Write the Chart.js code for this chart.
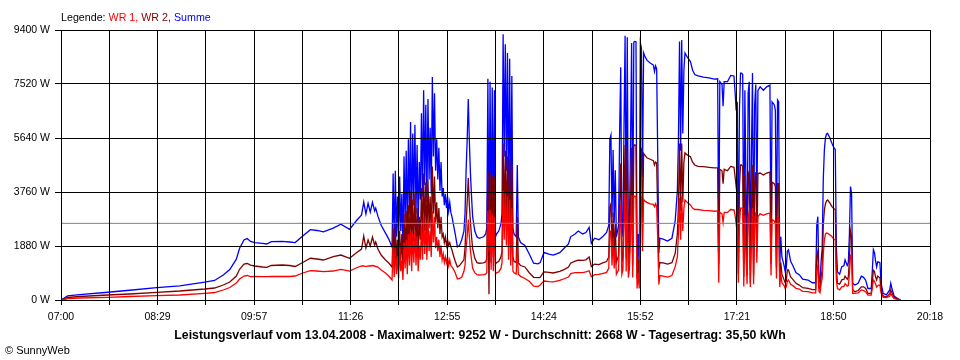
<!DOCTYPE html>
<html>
<head>
<meta charset="utf-8">
<script src="https://cdn.jsdelivr.net/npm/chart.js@4.4.1/dist/chart.umd.min.js"></script>
<style>
  body { margin: 0; background: #fff; }
  #wrap { position: relative; width: 960px; height: 360px; font-family: "Liberation Sans", Arial, sans-serif; color: #000; }
  #chart { position: absolute; left: 0; top: 0; }
  #legend { position: absolute; left: 61px; top: 11px; font-size: 10.7px; white-space: nowrap; }
  #footer { position: absolute; left: 0; top: 328px; width: 960px; text-align: center; font-size: 12.3px; font-weight: bold; white-space: nowrap; }
  #copy { position: absolute; left: 5px; top: 344px; font-size: 11px; white-space: nowrap; }
</style>
</head>
<body>
<div id="wrap">
  <canvas id="chart" width="960" height="360"></canvas>
  <div id="legend">Legende: <span style="color:#ff0000">WR 1,</span> <span style="color:#800000">WR 2,</span> <span style="color:#0000ff">Summe</span></div>
  <div id="footer">Leistungsverlauf vom 13.04.2008 - Maximalwert: 9252 W - Durchschnitt: 2668 W - Tagesertrag: 35,50 kWh</div>
  <div id="copy">&copy; SunnyWeb</div>
</div>
<script>
// minutes after 07:00
const times = [
  0,3,6,17,43, 63,88,109,132,141, 149,155,161,164,168, 171,174,178,185,189, 193,203,210,215,222, 229,235,241,250,257, 265,271,276,278,280, 282,284,286,288,289, 291,294,298,301,304,
  305,306,307,308,309, 310,311,312,313,314, 315,316,317,318,319, 320,321,322,323,324, 325,326,327,328,329, 330,331,332,333,334, 335,336,337,338,339, 340,341,342,343,344, 345,346,347,348,349, 350,351,352,353,354, 355,356,357,358,359, 360,
  362,364,366,368,370, 371,372,373,374,375, 376,377,378,380,382, 384,388,390,
  391,392,393,394,395, 396,397,398,399,400, 402,404,
  405,406,407,408,409, 410,411,412,413,414, 415,416,418,419,420, 422,426,430,434,438, 440,443,444,448,452, 458,462,466,468,472, 475,479,482,485,487, 490,494,498,501,503,
  504,505,506,507,508, 509,510,512,513,514, 515,516,517,518,519, 520,521,522,523,524, 525,526,527,528,529, 530,531,532,533,534, 535,536,538,541,544, 545,546,547,548,549,
  550,553,557,561,564, 566,567,568,569,570, 571,572,573,575,578, 580,582,585,590,595, 600,603,604,605,607, 608,609,612,615,618,
  619,620,621,622,623, 624,625,626,627,628, 629,630,631,632,633, 634,635,636,637,638, 639,640,
  642,645,648,651,652, 653,655,656,657,658, 659,660,661,662,664, 665,666,667,668,670, 672,675,678,681,686, 690,693,694,695,696, 697,698,699,700,701, 702,703,704,706,708, 710,711,712,713,715, 717,719,720,722,723, 724,725,726,727,729, 732,735,737,739,741, 744,745,746,747,748, 749,750,751,752,753, 755,758,761,762,763, 765,768,771
];

// WR 2 (dark red), W
const wr2 = [
  0,35,87,122,174, 209,268,313,383,418, 522,627,835,1070,1253, 1271,1218,1184,1149,1138, 1201,1218,1201,1166,1305, 1452,1427,1392,1507,1566, 1452,1636,1775,2228,1810, 2089,1880,2193,1915,2019, 1775,1566,1392,1288,1149,
  2500,1100,2700,1300,2100, 1050,2400,1400,2300,1000, 3000,1600,3100,1400,3300, 1800,3800,1600,3500,2000, 3700,1800,3200,1500,2900, 2100,3900,2200,4400,2400, 4100,2000,4200,2500,3600, 2200,4650,3000,4300,2700, 3400,2500,3200,2300,2900, 2200,2300,2000,2200,1900, 2100,1900,2000,1850,1750, 1600,
  1350,1150,1200,1300,1400, 1800,2700,3400,4250,3300, 2700,2200,1800,1450,1300, 1280,1290,1330,
  1450,4500,200,4400,1300, 4300,1500,4300,1250,1300, 1350,1500,
  1700,5450,2900,5200,2600, 5000,1900,4900,1600,4600, 1500,1350,1300,2900,1300, 1200,1150,950,790,780, 790,960,980,960,940, 1000,1060,1150,1280,1350, 1390,1380,1400,1500,1160, 1250,1230,1300,1340,1500,
  3250,3350,1700,3050,1580, 2650,1300,1550,3450,4750, 1300,1500,3500,5400,1450, 5350,1200,1600,3250,5300, 1200,5350,5400,5380,750, 1400,650,5330,5250,2600, 5100,5050,4950,4900,4850, 4700,4800,4770,2900,1100,
  1300,1290,1250,1300,1620, 2300,3300,5450,3100,5450, 3400,4800,5120,5050,4990, 4800,4700,4650,4640,4620, 4600,4600,1250,4550,4500, 4050,4550,4500,4650,4620,
  4300,3950,4100,900,3950, 4700,4700,4650,800,4350, 2400,850,4300,4500,600, 3000,4700,850,4100,4450, 1800,4400,
  4420,4350,4420,4450,1250, 4100,4050,3950,1150,4050, 4050,700,1300,900,700, 600,650,1050,1050,800, 720,580,520,430,406, 360,360,1550,1700,430, 380,800,1050,2600,3130, 3350,3450,3480,3380,3250, 3170,3150,1150,580,550, 700,720,830,720,800, 1400,2400,2200,350,290, 330,460,460,400,230, 230,600,1040,1000,800, 700,830,800,780,350, 140,100,220,350,250, 90,40,0
];

// WR 1 (red), W
const wr1 = [
  0,17,45,70,94, 122,150,174,233,261, 348,435,592,731,835, 853,811,818,811,811, 818,818,818,835,940, 1020,1009,985,1009,1069, 1009,1114,1184,1184,1166, 1184,1184,1201,1184,1166, 1149,1044,940,835,696,
  1900,800,1800,900,1500, 750,1900,1000,1400,700, 2000,1100,2100,900,2300, 1200,2400,1000,2300,1300, 2400,1200,2200,1000,1900, 1400,2600,1400,2900,1600, 2700,1400,2800,1700,2400, 1500,3100,2000,2900,1800, 2200,1700,2100,1500,1900, 1400,1600,1300,1500,1300, 1500,1200,1400,1200,1150, 1100,
  950,730,750,800,1000, 1200,1800,2200,2800,2200, 1700,1400,1100,950,880, 870,880,900,
  950,3100,1700,3150,1050, 3000,1000,2900,900,950, 980,1100,
  1300,3800,2100,3700,1900, 3600,1400,3500,1200,3200, 1000,950,900,1800,900, 820,750,650,480,470, 520,640,660,640,630, 680,740,800,920,950, 950,950,980,1020,810, 880,890,930,960,1100,
  2350,2400,1200,2170,1100, 1870,890,1050,2450,3350, 890,1040,2500,3800,990, 3800,780,1080,2250,3650, 780,3630,3600,3610,400, 900,400,3650,3550,1700, 3500,3450,3400,3350,3330, 3250,3350,3240,2100,540,
  850,830,800,850,1160, 1500,2300,3550,2100,3600, 2400,3200,3480,3400,3310, 3200,3150,3150,3120,3110, 3090,3100,600,3050,3000, 2700,3050,3050,3150,3140,
  2950,2650,2800,600,2650, 3200,3200,3200,470,2950, 1600,550,2900,3100,450, 2000,3200,550,2700,3050, 1300,2900,
  3000,2950,3000,3030,850, 2800,2750,2650,750,2900, 2850,450,900,600,500, 400,450,650,700,550, 500,400,380,300,290, 250,250,1050,1200,300, 250,550,750,1600,2090, 2300,2330,2320,2270,2200, 2110,2100,700,400,350, 460,480,570,480,500, 900,1550,1500,230,230, 250,350,330,280,170, 170,400,700,650,560, 450,500,520,520,250, 90,80,130,230,150, 50,20,0
];

// Summe (blue), W
const summe = [
  0,70,140,190,270, 340,430,490,620,680, 870,1060,1420,1800,2089, 2140,2040,2000,1970,1950, 2030,2040,2020,2000,2230, 2450,2420,2370,2500,2640, 2460,2750,2960,3410,2990, 3370,3060,3400,3100,3200, 2920,2600,2330,2120,1845,
  4400,1900,4500,2200,3600, 1800,4300,2400,3700,1700, 5000,2700,5200,2300,5600, 3000,6200,2600,5800,3300, 6100,3000,5400,2500,4800, 3500,6500,3600,7300,4000, 6800,3400,7000,4200,6000, 3700,7760,5000,7200,4500, 5600,4200,5300,3800,4800, 3600,3900,3300,3700,3200, 3600,3100,3400,3050,2900, 2700,
  2300,1850,1900,2100,2400, 3000,4500,5600,7000,5500, 4400,3600,2900,2400,2200, 2150,2200,2300,
  2500,7700,2000,7600,2400, 7400,2600,7300,2200,2300, 2400,2650,
  3000,9252,5000,8900,4500, 8600,3300,8400,2800,7800, 2500,2300,2200,4700,2200, 2000,1900,1600,1280,1260, 1300,1600,1650,1600,1560, 1650,1800,1950,2200,2300, 2400,2300,2350,2530,1970, 2150,2100,2230,2350,2600,
  5600,5740,2890,5220,2680, 4520,2190,2600,5900,8100, 2190,2540,6000,9200,2440, 9150,1980,2680,5500,8950, 1980,8980,9000,8990,1150, 2300,1050,8950,8770,4280, 8600,8500,8350,8250,8180, 7950,8150,8050,5000,1640,
  2150,2120,2050,2150,2750, 3800,5600,9000,5200,9050, 5800,8000,8600,8460,8300, 8000,7850,7800,7760,7730, 7690,7700,1850,7600,7500, 6750,7600,7600,7820,7800,
  7250,6600,6900,1500,6600, 7900,7900,7850,1270,7300, 4000,1400,7200,7600,1050, 5000,7900,1400,6800,7500, 3100,7300,
  7420,7300,7420,7480,2100, 6900,6800,6600,1900,6960, 6900,1150,2200,1500,1200, 1000,1100,1700,1750,1350, 1200,950,880,730,696, 600,600,2600,2900,730, 620,1350,1800,4200,5220, 5650,5780,5800,5650,5450, 5280,5250,1850,980,900, 1160,1200,1400,1200,1300, 2300,3950,3700,580,520, 580,830,790,680,400, 400,1000,1750,1650,1360, 1150,1330,1320,1300,600, 230,180,350,580,400, 140,60,0
];

const avgWatt = 2668;
const spanMinutes = 798; // 07:00 .. 20:18
const timeLabels = ['07:00', '08:29', '09:57', '11:26', '12:55', '14:24', '15:52', '17:21', '18:50', '20:18'];
const yTicks = [0, 1880, 3760, 5640, 7520, 9400];

Chart.defaults.font.family = '"Liberation Sans", Arial, sans-serif';
Chart.defaults.color = '#000';

const toPoints = vals => vals.map((v, i) => ({ x: times[i], y: v }));
const axisFont = { size: 10.5 };

const ctx = document.getElementById('chart').getContext('2d');
new Chart(ctx, {
    type: 'line',
    data: {
        datasets: [
            { label: 'Durchschnitt', data: [{ x: 0, y: avgWatt }, { x: spanMinutes, y: avgWatt }], borderColor: '#808080', borderWidth: 1, order: -1 },
            { label: 'WR 1', data: toPoints(wr1), borderColor: '#ff0000', borderWidth: 1.3 },
            { label: 'WR 2', data: toPoints(wr2), borderColor: '#800000', borderWidth: 1.3 },
            { label: 'Summe', data: toPoints(summe), borderColor: '#0000ff', borderWidth: 1.3 }
        ]
    },
    options: {
        responsive: false,
        animation: false,
        elements: { point: { radius: 0 }, line: { tension: 0 } },
        layout: { padding: { top: 30, right: 30, left: 0, bottom: 0 } },
        plugins: { legend: { display: false }, tooltip: { enabled: false } },
        scales: {
            x: {
                type: 'linear',
                min: 0,
                max: spanMinutes,
                afterBuildTicks: scale => {
                    const n = (timeLabels.length - 1) * 2;
                    scale.ticks = Array.from({ length: n + 1 }, (_, i) => ({ value: i * spanMinutes / n }));
                },
                afterFit: scale => { scale.height = 60; },
                grid: { color: '#000', lineWidth: 1, tickLength: 5, tickColor: '#000', z: 1 },
                border: { display: false },
                ticks: {
                    autoSkip: false,
                    maxRotation: 0,
                    font: axisFont,
                    padding: 6,
                    callback: (v, i) => (i % 2 === 0 ? timeLabels[i / 2] : '')
                }
            },
            y: {
                min: 0,
                max: 9400,
                afterBuildTicks: scale => { scale.ticks = yTicks.map(v => ({ value: v })); },
                afterFit: scale => { scale.width = 61; },
                grid: { color: '#000', lineWidth: 1, tickLength: 6, tickColor: '#000', z: 1 },
                border: { display: false },
                ticks: { font: axisFont, padding: 5, callback: v => v + ' W' }
            }
        }
    }
});
</script>
</body>
</html>
